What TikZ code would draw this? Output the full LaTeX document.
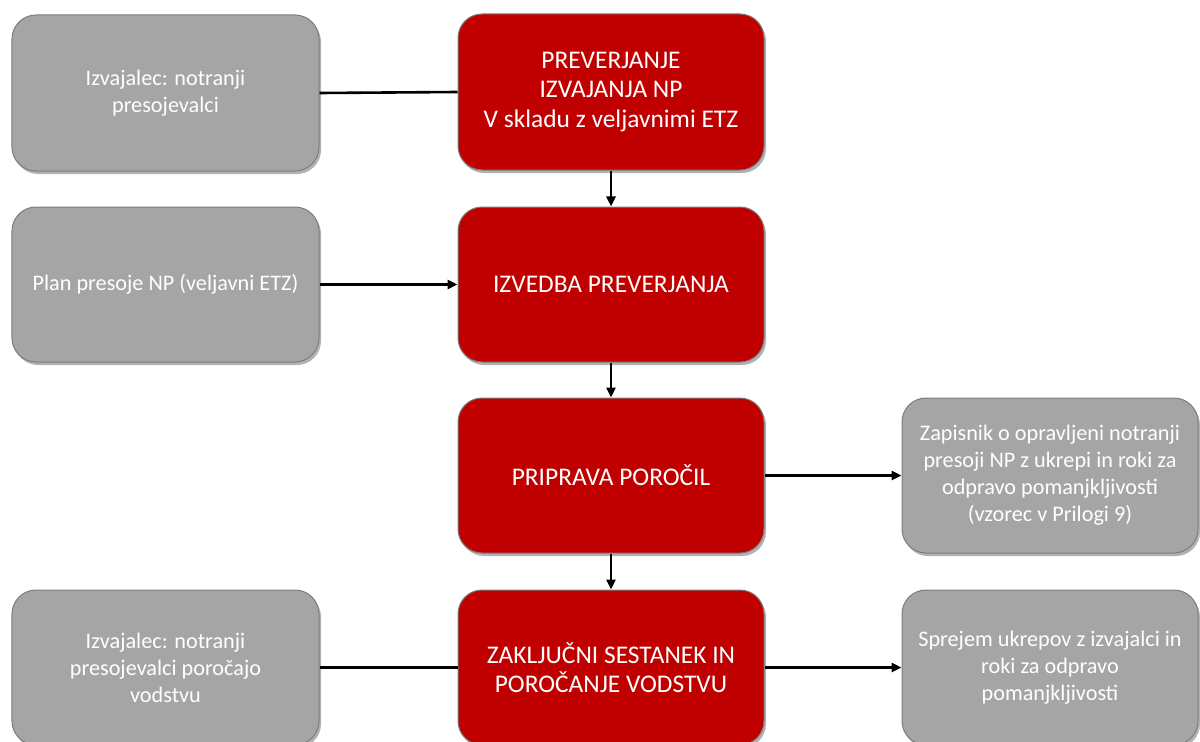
\documentclass[tikz,border=0pt]{standalone}
\usepackage{fontspec}
\setmainfont{Carlito}
\usetikzlibrary{arrows.meta,shadows}
\definecolor{boxred}{RGB}{192,0,0}
\definecolor{boxgray}{RGB}{165,165,165}
\definecolor{edgegray}{RGB}{125,125,125}
\tikzset{
  basebox/.style={rounded corners=24bp, draw=edgegray, line width=1bp,
    align=center, text=white, inner sep=0pt,
    drop shadow={shadow xshift=2bp, shadow yshift=-3bp, opacity=0.3, fill=black}},
  redbox/.style={basebox, fill=boxred, minimum width=306bp, minimum height=156bp,
    font=\fontsize{25.5}{29.5}\selectfont},
  graybox/.style={basebox, fill=boxgray, minimum width=307bp, minimum height=155bp,
    font=\fontsize{22.3}{27}\selectfont},
  conn/.style={line width=2.6bp, black},
  arr/.style={conn, -{Triangle[length=10bp,width=9bp]}}
}
\begin{document}
\begin{tikzpicture}[x=1bp,y=-1bp]
\useasboundingbox (0,0) rectangle (1200,742);
\clip (0,0) rectangle (1200,742);
\node[graybox, minimum height=156bp] (L1) at (165.5,93) {Izvajalec: notranji\\presojevalci};
\node[redbox] (R1) at (611,92) {PREVERJANJE\\IZVAJANJA NP\\V skladu z veljavnimi ETZ};
\node[graybox] (L2) at (165.5,284.5) {Plan presoje NP (veljavni ETZ)};
\node[redbox, minimum height=155bp] (R2) at (611,284.5) {IZVEDBA PREVERJANJA};
\node[redbox, minimum height=155bp] (R3) at (611,475.5) {PRIPRAVA PORO\v{C}IL};
\node[graybox, minimum width=296bp] (Q1) at (1050,475.5) {Zapisnik o opravljeni notranji\\presoji NP z ukrepi in roki za\\odpravo pomanjkljivosti\\(vzorec v Prilogi 9)};
\node[graybox] (L3) at (165.5,667.5) {Izvajalec: notranji\\presojevalci poro\v{c}ajo\\vodstvu};
\node[redbox, minimum height=155bp] (R4) at (611,667.5) {ZAKLJU\v{C}NI SESTANEK IN\\PORO\v{C}ANJE VODSTVU};
\node[graybox, minimum width=296bp] (Q2) at (1050,667.5) {Sprejem ukrepov z izvajalci in\\roki za odpravo\\pomanjkljivosti};
\draw[conn] (L1.east) -- (R1.west);
\draw[arr] (L2.east) -- (R2.west);
\draw[conn] (L3.east) -- (R4.west);
\draw[arr] (R1.south) -- (R2.north);
\draw[arr] (R2.south) -- (R3.north);
\draw[arr] (R3.south) -- (R4.north);
\draw[arr] (R3.east) -- (Q1.west);
\draw[arr] (R4.east) -- (Q2.west);
\end{tikzpicture}
\end{document}
